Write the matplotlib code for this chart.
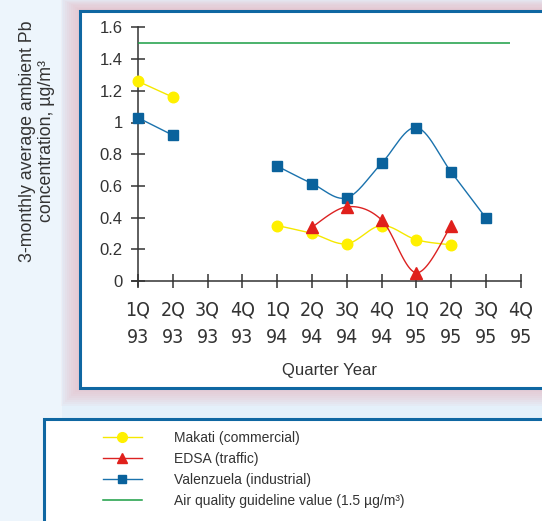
import numpy as np
import matplotlib
matplotlib.use("Agg")
import matplotlib.pyplot as plt
from matplotlib.patches import Rectangle
from matplotlib.lines import Line2D
from matplotlib import font_manager as fm

plt.rcParams['font.family'] = ['Liberation Sans', 'DejaVu Sans']

# look for a narrow/condensed sans font if one is installed
narrow_fp = None
for f in fm.fontManager.ttflist:
    nm = f.name.lower()
    if ('narrow' in nm or 'condensed' in nm or f.stretch in ('condensed', 'semi-condensed', 575, 625, 750)) \
            and f.style == 'normal' and f.weight in (400, 'normal', 'regular'):
        if 'mono' in nm or 'serif' in nm and 'sans' not in nm:
            continue
        narrow_fp = fm.FontProperties(fname=f.fname)
        break

quarters = ["1Q\n93", "2Q\n93", "3Q\n93", "4Q\n93",
            "1Q\n94", "2Q\n94", "3Q\n94", "4Q\n94",
            "1Q\n95", "2Q\n95", "3Q\n95", "4Q\n95"]
makati = [1.26, 1.16, None, None, 0.35, 0.30, 0.235, 0.35, 0.26, 0.228, None, None]
edsa = [None, None, None, None, None, 0.34, 0.468, 0.385, 0.052, 0.35, None, None]
valenzuela = [1.03, 0.92, None, None, 0.725, 0.615, 0.525, 0.743, 0.968, 0.687, 0.397, None]
guideline = 1.5
guideline_span = (0, 10.7)
yticks = [0, 0.2, 0.4, 0.6, 0.8, 1, 1.2, 1.4, 1.6]
ytick_labels = ["0", "0.2", "0.4", "0.6", "0.8", "1", "1.2", "1.4", "1.6"]

W, H = 542, 521
fig = plt.figure(figsize=(W / 100, H / 100), dpi=100)
fig.patch.set_facecolor('#e4f0fa')

def px_rect(x0, y0, x1, y1, **kw):
    r = Rectangle((x0 / W, 1 - y1 / H), (x1 - x0) / W, (y1 - y0) / H,
                  transform=fig.transFigure, clip_on=False, **kw)
    fig.add_artist(r)
    return r

px_rect(0, 0, 62, H, facecolor='#edf5fc', edgecolor='none', zorder=0)
for k in range(10):
    d = 18 - 2 * k
    px_rect(79 - d, 9 - d * 0.6, 600, 388 + d, facecolor='#e9b3bd',
            edgecolor='none', alpha=0.09, zorder=0.1)
px_rect(80, 10.5, 600, 387.5, facecolor='white', edgecolor='#0f67a2',
        linewidth=2.2, zorder=0.2)
px_rect(44, 419, 600, 560, facecolor='white', edgecolor='#0f67a2',
        linewidth=2.2, zorder=0.2)

x_lo, x_hi = -0.3, 11.2
y_lo, y_hi = -0.05, 1.65
x0p, xu = 138.0, 34.8
y0p, yu = 281.0, 158.5
left = (x0p + x_lo * xu) / W
right = (x0p + x_hi * xu) / W
bottom = 1 - (y0p - y_lo * yu) / H
top = 1 - (y0p - y_hi * yu) / H
ax = fig.add_axes([left, bottom, right - left, top - bottom])
ax.set_zorder(2)
ax.set_facecolor('none')
ax.set_xlim(x_lo, x_hi)
ax.set_ylim(y_lo, y_hi)

def smooth(xs, ys, n=30):
    xs = np.asarray(xs, float); ys = np.asarray(ys, float)
    if len(xs) < 3:
        return xs, ys
    P = np.column_stack([xs, ys])
    Pe = np.vstack([P[0], P, P[-1]])
    out = []
    t = np.linspace(0, 1, n)[:, None]
    for i in range(len(P) - 1):
        p0, p1 = P[i], P[i + 1]
        c1 = p0 + (Pe[i + 2] - Pe[i]) / 6
        c2 = p1 - (Pe[i + 3] - Pe[i + 1]) / 6
        seg = ((1 - t) ** 3) * p0 + 3 * ((1 - t) ** 2) * t * c1 + 3 * (1 - t) * t ** 2 * c2 + t ** 3 * p1
        out.append(seg if i == 0 else seg[1:])
    out = np.vstack(out)
    return out[:, 0], out[:, 1]

def runs(vals):
    res, cur = [], []
    for i, v in enumerate(vals):
        if v is None:
            if cur:
                res.append(cur); cur = []
        else:
            cur.append(i)
    if cur:
        res.append(cur)
    return res

series = [
    (valenzuela, '#1a72ad', '#0a629c', 's', 6.8, 4),
    (makati, '#f5e800', '#fff000', 'o', 7.6, 5),
    (edsa, '#dc2222', '#e0201c', '^', 8.2, 6),
]
for vals, lc, mc, mk, ms, z in series:
    for r in runs(vals):
        xs = r
        ys = [vals[i] for i in r]
        sx, sy = smooth(xs, ys)
        ax.plot(sx, sy, color=lc, lw=1.0, zorder=z)
        ax.plot(xs, ys, linestyle='none', marker=mk, ms=ms, color=mc,
                markeredgecolor=mc, zorder=z + 0.5)

ax.hlines(guideline, guideline_span[0], guideline_span[1], color='#1a9e44', lw=1.1, zorder=3)

for s in ['top', 'right']:
    ax.spines[s].set_visible(False)
ax.spines['left'].set_position(('data', 0))
ax.spines['bottom'].set_position(('data', 0))
ax.spines['left'].set_bounds(-0.03, 1.6)
ax.spines['bottom'].set_bounds(-0.17, 11)
for s in ['left', 'bottom']:
    ax.spines[s].set_color('#333333')
    ax.spines[s].set_linewidth(1.1)

ax.set_xticks(range(len(quarters)))
if narrow_fp is not None:
    xfp = narrow_fp.copy(); xfp.set_size(14)
    ax.set_xticklabels(quarters, linespacing=1.55, fontproperties=xfp)
    xpad = 9
else:
    ax.set_xticklabels(quarters, linespacing=1.68, fontsize=13)
    xpad = 9
ax.set_yticks(yticks)
ax.set_yticklabels(ytick_labels)
ax.tick_params(axis='both', direction='inout', length=10, width=1.1,
               color='#333333', labelcolor='#333333')
ax.tick_params(axis='y', labelsize=12, pad=6)
ax.tick_params(axis='x', pad=xpad)
for t in ax.get_xticklabels():
    t.set_color('#333333')

fig.text((x0p + 5.5 * xu) / W, 1 - 370 / H, "Quarter Year", ha='center', va='center',
         fontsize=12, color='#333333', zorder=3)
fig.text(37 / W, 1 - 141 / H, "3-monthly average ambient Pb\nconcentration, µg/m³",
         rotation=90, ha='center', va='center', fontsize=12.8, color='#333333',
         linespacing=1.2)

handles = [
    Line2D([], [], color='#f5e800', lw=1.0, marker='o', ms=7, markerfacecolor='#fff000', markeredgecolor='#fff000'),
    Line2D([], [], color='#dc2222', lw=1.0, marker='^', ms=7.5, markerfacecolor='#e0201c', markeredgecolor='#e0201c'),
    Line2D([], [], color='#1a72ad', lw=1.0, marker='s', ms=6, markerfacecolor='#0a629c', markeredgecolor='#0a629c'),
    Line2D([], [], color='#1a9e44', lw=1.1),
]
labels = ["Makati (commercial)", "EDSA (traffic)", "Valenzuela (industrial)",
          "Air quality guideline value (1.5 µg/m³)"]
leg = fig.legend(handles, labels, loc='upper left', bbox_to_anchor=(103 / W, 1 - 431 / H),
                 frameon=False, fontsize=10, handlelength=2.8, handletextpad=2.3,
                 labelspacing=0.5, numpoints=1, borderaxespad=0, borderpad=0)
leg.set_zorder(3)
for t in leg.get_texts():
    t.set_color('#333333')

fig.savefig('out.png', dpi=100, facecolor=fig.get_facecolor())
